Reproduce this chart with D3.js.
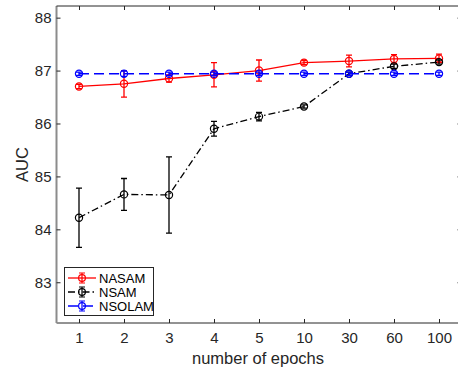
<!DOCTYPE html>
<html>
<head>
<meta charset="utf-8">
<script src="https://cdn.jsdelivr.net/npm/d3@7"></script>
<style>
  html, body { margin: 0; padding: 0; background: #fff; }
  svg { display: block; font-family: "Liberation Sans", Arial, Helvetica, sans-serif; }
</style>
</head>
<body>
<svg id="chart" width="458" height="370"></svg>
<script>
// Epoch settings on the x axis (categorical, evenly spaced)
const epochs = ["1", "2", "3", "4", "5", "10", "30", "60", "100"];
const yTicks = [83, 84, 85, 86, 87, 88];

// Mean AUC and error (half-length of the error bar) for each method
const nasamMean = [86.70, 86.75, 86.85, 86.92, 87.00, 87.15, 87.18, 87.22, 87.23];
const nasamErr  = [0.04, 0.25, 0.07, 0.23, 0.20, 0.04, 0.11, 0.08, 0.08];
const nsamMean  = [84.22, 84.66, 84.65, 85.90, 86.13, 86.32, 86.94, 87.08, 87.16];
const nsamErr   = [0.56, 0.30, 0.72, 0.14, 0.08, 0.03, 0.03, 0.04, 0.04];
const nsolamMean = [86.94, 86.94, 86.94, 86.94, 86.94, 86.94, 86.94, 86.94, 86.94];
const nsolamErr  = [0.03, 0.05, 0.03, 0.03, 0.03, 0.03, 0.03, 0.03, 0.03];

const seriesNames = ["NASAM", "NSAM", "NSOLAM"];
const seriesColors = ["#ff0000", "#000000", "#0000ff"];
const seriesDash = [null, "7,3,1.5,3", "10,5"];

const series = [
  { name: seriesNames[0], mean: nasamMean, err: nasamErr, color: seriesColors[0], dash: seriesDash[0] },
  { name: seriesNames[1], mean: nsamMean, err: nsamErr, color: seriesColors[1], dash: seriesDash[1] },
  { name: seriesNames[2], mean: nsolamMean, err: nsolamErr, color: seriesColors[2], dash: seriesDash[2] }
];

const svg = d3.select("#chart");
const plotLeft = 56.5, plotRight = 461.5, plotTop = 6, plotBottom = 323;

const x = d3.scalePoint().domain(epochs).range([plotLeft, plotRight]).padding(0.5);
const y = d3.scaleLinear().domain([82.23, 88.22]).range([plotBottom, plotTop]);

const axisColor = "#262626";
const tickLen = 4;

// Axes box: bottom / left with labels, top / right with inward ticks only
const gx = svg.append("g").attr("transform", `translate(0,${plotBottom})`)
  .call(d3.axisBottom(x).tickSize(-tickLen).tickPadding(9));
gx.select(".domain").attr("stroke", axisColor).attr("d", `M${plotLeft},0H${plotRight}`);
gx.selectAll(".tick line").attr("stroke", axisColor);
gx.selectAll(".tick text").attr("fill", axisColor).attr("font-size", 15)
  .attr("font-family", "Liberation Sans, Arial, sans-serif");

const gy = svg.append("g").attr("transform", `translate(${plotLeft},0)`)
  .call(d3.axisLeft(y).tickValues(yTicks).tickSize(-tickLen).tickPadding(5).tickFormat(d3.format("d")));
gy.select(".domain").attr("stroke", "#8c8c8c").attr("stroke-width", 2).attr("d", `M0,${plotTop}V${plotBottom}`);
gy.selectAll(".tick line").attr("stroke", axisColor);
gy.selectAll(".tick text").attr("fill", axisColor).attr("font-size", 15)
  .attr("font-family", "Liberation Sans, Arial, sans-serif");

const gt = svg.append("g").attr("transform", `translate(0,${plotTop})`)
  .call(d3.axisTop(x).tickSize(-tickLen).tickFormat(""));
gt.select(".domain").attr("stroke", axisColor).attr("d", `M${plotLeft},0H${plotRight}`);
gt.selectAll(".tick line").attr("stroke", axisColor);

const gr = svg.append("g").attr("transform", `translate(${plotRight},0)`)
  .call(d3.axisRight(y).tickValues(yTicks).tickSize(-tickLen).tickFormat(""));
gr.select(".domain").attr("stroke", axisColor).attr("d", `M0,${plotTop}V${plotBottom}`);
gr.selectAll(".tick line").attr("stroke", axisColor);

// Axis titles
svg.append("text")
  .attr("x", (plotLeft + plotRight) / 2 - 1).attr("y", 364)
  .attr("text-anchor", "middle").attr("font-size", 16.5).attr("fill", axisColor)
  .text("number of epochs");
svg.append("text")
  .attr("transform", `translate(28,${(plotTop + plotBottom) / 2}) rotate(-90)`)
  .attr("text-anchor", "middle").attr("font-size", 16.5).attr("fill", axisColor)
  .text("AUC");

const capHalf = 3;
const line = d3.line().x((d, i) => x(epochs[i])).y(d => y(d));

series.forEach(s => {
  const g = svg.append("g");
  g.append("path")
    .attr("d", line(s.mean))
    .attr("fill", "none").attr("stroke", s.color).attr("stroke-width", 1.3)
    .attr("stroke-dasharray", s.dash);

  const pts = g.selectAll("g.pt").data(s.mean.map((m, i) => ({ m, e: s.err[i], c: epochs[i] })))
    .enter().append("g");
  pts.append("path")
    .attr("d", d => {
      const cx = x(d.c), y0 = y(d.m - d.e), y1 = y(d.m + d.e);
      return `M${cx},${y0}V${y1}M${cx - capHalf},${y0}H${cx + capHalf}M${cx - capHalf},${y1}H${cx + capHalf}`;
    })
    .attr("fill", "none").attr("stroke", s.color).attr("stroke-width", 1.3);
  pts.append("circle")
    .attr("cx", d => x(d.c)).attr("cy", d => y(d.m)).attr("r", 3.6)
    .attr("fill", "none").attr("stroke", s.color).attr("stroke-width", 1.2);
});

// Legend
const lg = svg.append("g");
lg.append("rect").attr("x", 64.5).attr("y", 267.5).attr("width", 89).attr("height", 48)
  .attr("fill", "#fff").attr("stroke", axisColor).attr("stroke-width", 1);
series.forEach((s, i) => {
  const ly = 278 + i * 14;
  lg.append("line").attr("x1", 68).attr("x2", 96).attr("y1", ly).attr("y2", ly)
    .attr("stroke", s.color).attr("stroke-width", 1.3).attr("stroke-dasharray", s.dash);
  lg.append("path")
    .attr("d", `M82,${ly - 5}V${ly + 5}M79,${ly - 5}H85M79,${ly + 5}H85`)
    .attr("stroke", s.color).attr("stroke-width", 1.2).attr("fill", "none");
  lg.append("circle").attr("cx", 82).attr("cy", ly).attr("r", 3.4)
    .attr("fill", "none").attr("stroke", s.color).attr("stroke-width", 1.2);
  lg.append("text").attr("x", 99).attr("y", ly + 4.5).attr("font-size", 13)
    .attr("fill", "#000").text(s.name);
});
</script>
</body>
</html>
